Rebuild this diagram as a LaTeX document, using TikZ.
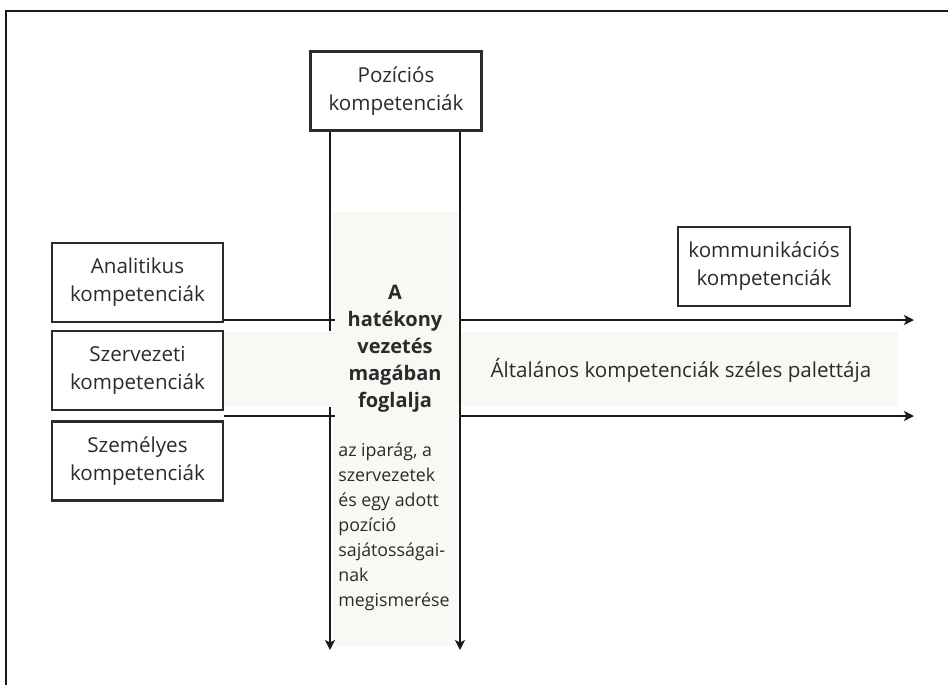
\documentclass[tikz,border=0pt]{standalone}
\usepackage{fontspec}
\setmainfont{Open Sans}
\usepackage{xcolor}
\usepackage{tikz}
\usetikzlibrary{
    arrows.meta,
    positioning,
    calc,
    backgrounds
}
\definecolor{hkInk}{HTML}{2B2B2B}
\definecolor{hkLineGray}{HTML}{1A1A1A}
\definecolor{hkPaper}{HTML}{FAF8F4}
\tikzset{
    hkBox/.style={
        draw=hkInk,
        fill=white,
        minimum width=171*0.5pt,
        minimum height=79*0.5pt,
        inner sep=0pt,
        align=center,
        line width=1.1pt,
        text=hkInk,
        font=\fontsize{10.3}{14}\selectfont
    },
    hkLine/.style={line width=1.3pt,draw=hkLineGray},
    hkArrow/.style={-{Stealth[length=5pt,width=5pt,inset=1.2pt]},line width=1.3pt,draw=hkLineGray},
    hkBand/.style={fill=hkPaper,draw=none,inner sep=0pt}
}

\begin{document}
\begin{tikzpicture}[x=0.5pt,y=-0.5pt]
        \useasboundingbox (0,0) rectangle (948,685);

        % frame
        \draw[line width=1.1pt,draw=hkLineGray] (948,11) -- (6,11) -- (6,685);

        % boxes
        \node[hkBox] (poz) at (396,91) {Pozíciós\\kompetenciák};
        \node[hkBox] (anal) at (137.5,282.5) {Analitikus\\kompetenciák};
        \node[hkBox,below=3.5pt of anal] (szerv) {Szervezeti\\kompetenciák};
        \node[hkBox,below=4.5pt of szerv] (szem) {Személyes\\kompetenciák};
        \node[hkBox,minimum width=172*0.5pt] (komm) at (764,266.5) {kommunikációs\\kompetenciák};

        % free ends
        \coordinate (vlEnd) at (330,650);
        \coordinate (vrEnd) at (460,650);
        \coordinate (lCut) at (330,331);
        \coordinate (lCutB) at (330,407);
        \coordinate (hlEnd) at (914,320);
        \coordinate (llEnd) at (914,416);

        % paper bands
        \begin{scope}[on background layer]
            \node[hkBand,minimum width=125*0.5pt,minimum height=434*0.5pt] (col) at (395.5,429) {};
            \node[hkBand,minimum width=675*0.5pt,minimum height=74*0.5pt] (band) at (560.5,369) {};
        \end{scope}

        % texts
        \node[text=hkInk,align=center,font=\fontsize{10}{13.5}\selectfont\bfseries] (core) at (395,349)
            {A\\hatékony\\vezetés\\magában\\foglalja};
        \node[text=hkInk,align=left,anchor=west,inner sep=0pt,font=\fontsize{8.9}{12.5}\selectfont] (detail) at (338,527)
            {az iparág, a\\szervezetek\\és egy adott\\pozíció\\sajátosságai-\\nak\\megismerése};
        \node[text=hkInk,font=\fontsize{10.3}{14}\selectfont] (broad) at (681,370)
            {Általános kompetenciák széles palettája};

        % arrows
        \draw[hkLine] (poz.south -| vlEnd) -- (lCut);
        \draw[hkArrow] (lCutB) -- (vlEnd);
        \draw[hkArrow] (poz.south -| vrEnd) -- (vrEnd);

        \draw[hkLine] (anal.east |- hlEnd) -- ($(lCut |- hlEnd)+(5,0)$);
        \draw[hkLine] (szem.east |- llEnd) -- ($(lCut |- llEnd)+(5,0)$);
        \draw[hkArrow] (vrEnd |- hlEnd) -- (hlEnd);
        \draw[hkArrow] (vrEnd |- llEnd) -- (llEnd);
    \end{tikzpicture}
\end{document}
